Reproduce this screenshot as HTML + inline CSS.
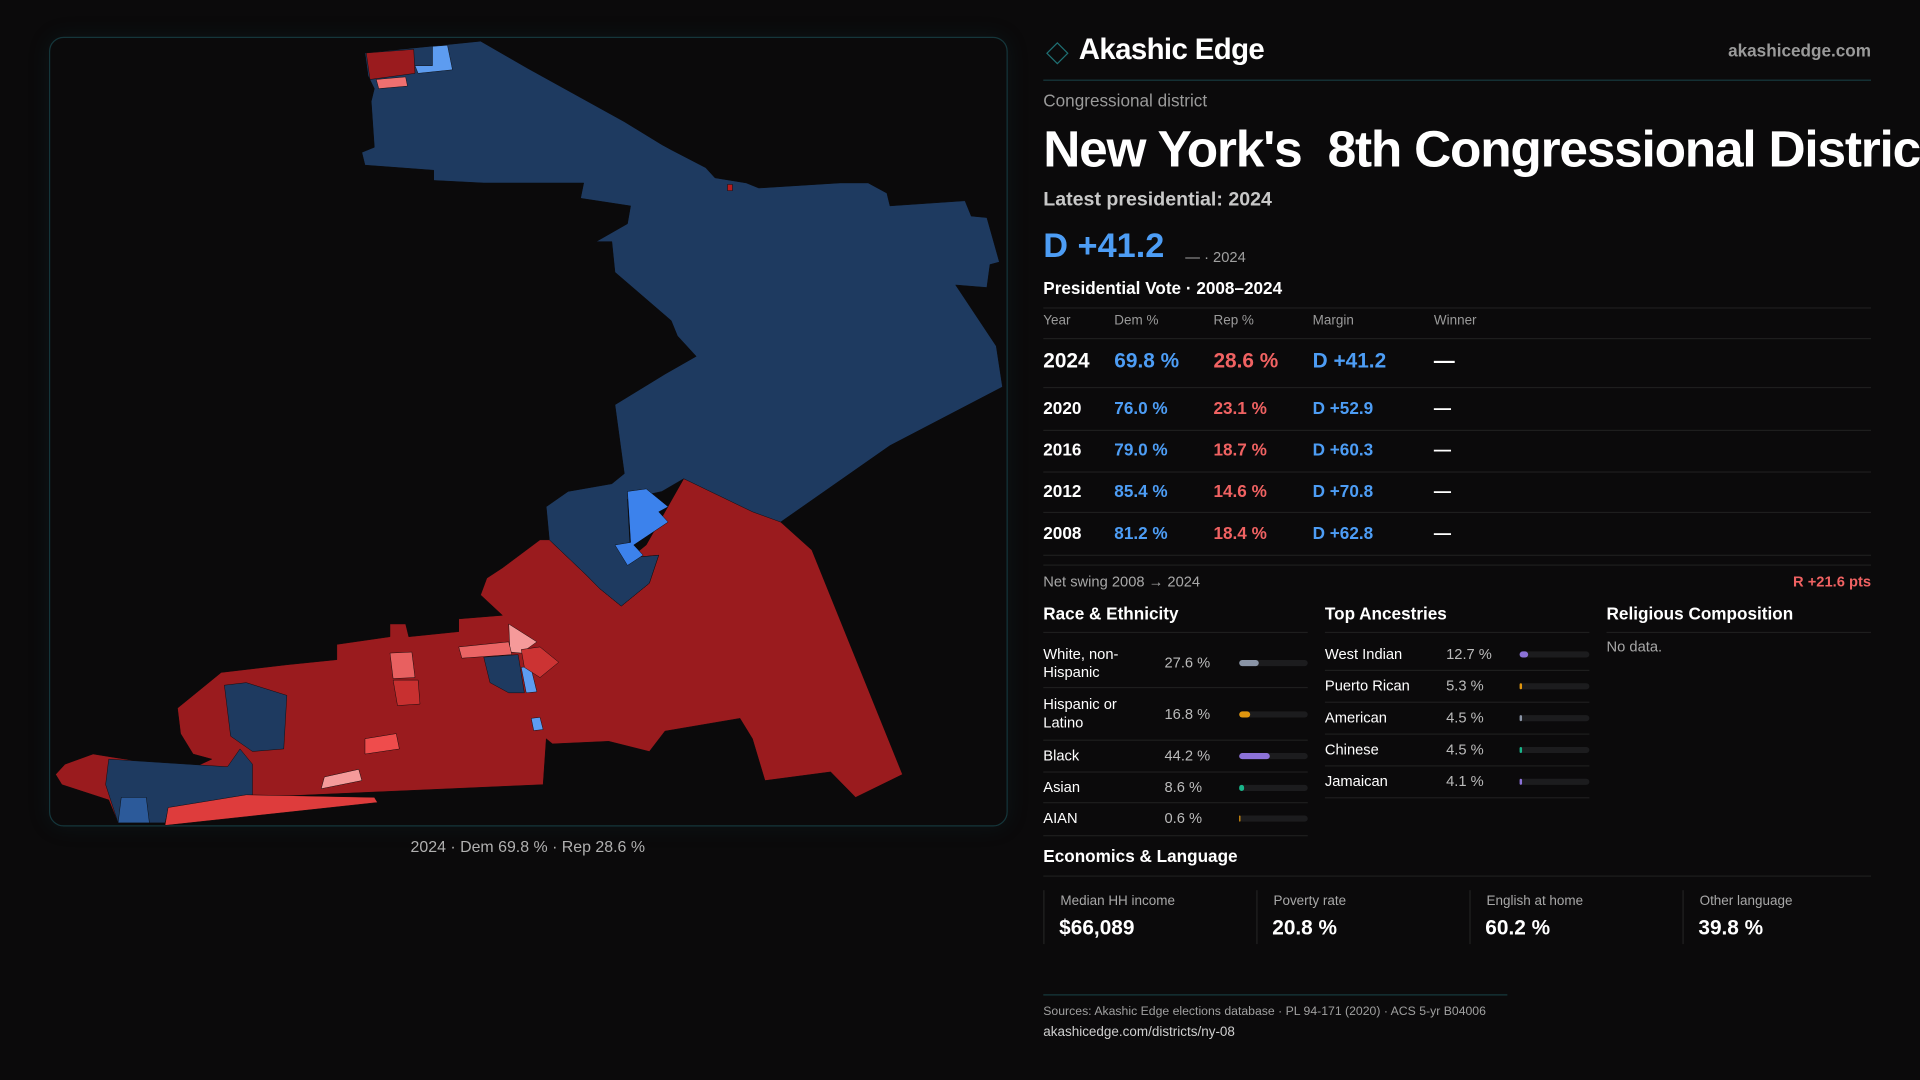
<!DOCTYPE html>
<html><head><meta charset="utf-8"><style>
html,body{margin:0;padding:0;background:#0b0a0b;width:1920px;height:1080px;overflow:hidden}
#s{position:absolute;left:0;top:0;width:1568px;height:882px;transform:scale(1.22449);transform-origin:0 0;font-family:"Liberation Sans",sans-serif;color:#fff}
.a{position:absolute;white-space:pre}
.ln{position:absolute;height:1px;background:#1e1e1e}
.bar{position:absolute;height:5px;border-radius:3px;background:#1c1c1e}
.bar i{position:absolute;left:0;top:0;height:5px;border-radius:3px}
</style></head><body><div id="s">
<div style="position:absolute;left:40px;top:30px;width:781px;height:643px;border:1px solid #15363b;border-radius:12px;box-shadow:0 0 18px rgba(20,80,90,0.15)"></div>
<svg style="position:absolute;left:0;top:0" width="1568" height="882" viewBox="0 0 1568 882">
<g transform="translate(32.67,24.5) scale(0.5104,0.4164)" stroke="#0b0a0b" stroke-width="0.8">
<polygon fill="#9a1b1e" points="1030,880 1100,910 1185,965 1235,1020 1380,1460 1305,1505 1265,1455 1160,1472 1140,1390 1120,1350 1000,1375 975,1415 910,1395 820,1400 810,1390 805,1480 340,1505 205,1555 125,1555 110,1510 35,1480 25,1460 40,1440 85,1420 110,1425 240,1450 275,1430 245,1420 225,1380 220,1330 240,1310 290,1260 395,1245 475,1235 475,1205 560,1190 560,1165 585,1165 590,1190 670,1180 670,1155 740,1148 705,1108 715,1075 740,1055 800,1000 815,1000 875,1070 895,1095 930,1130 975,1085 990,1030 945,1035 970,1010"/>
<polygon fill="#1e3a60" points="520,45 705,22 780,75 935,180 995,225 1010,235 1065,270 1080,290 1130,300 1150,310 1280,300 1325,300 1355,320 1360,345 1480,335 1490,365 1515,368 1535,455 1520,460 1515,505 1465,500 1530,620 1540,700 1360,815 1185,965 1140,945 1030,880 995,905 940,920 945,1035 990,1030 975,1085 930,1130 895,1095 875,1070 815,1000 810,935 845,905 915,890 935,870 920,735 1000,675 1050,640 1020,600 1010,570 920,475 915,415 890,415 940,380 945,345 865,330 870,300 710,300 630,295 630,275 520,265 515,240 535,230 530,140 535,115 525,90"/>
<polygon fill="#1e3a60" points="110,1430 300,1445 320,1410 340,1440 340,1500 205,1530 200,1555 125,1555 105,1480"/>
<polygon fill="#2c5a9a" points="130,1505 170,1505 175,1555 125,1555"/>
<polygon fill="#1e3a60" points="295,1285 330,1280 395,1305 390,1410 340,1415 305,1385"/>
<polygon fill="#1e3a60" points="710,1230 765,1225 775,1300 750,1300 720,1280"/>
<polygon fill="#5d9cf0" points="770,1250 785,1248 795,1298 778,1300"/>
<polygon fill="#5d9cf0" points="786,1350 800,1348 805,1372 790,1374"/>
<polygon fill="#3c82ec" points="940,905 970,900 1005,935 990,945 1005,965 950,1010 965,1030 940,1050 920,1010 945,1005"/>
<polygon fill="#5d9cf0" points="628,32 652,30 660,78 605,85 600,70 628,70"/>
<polygon fill="#9a1b1e" points="522,45 598,38 600,85 528,97"/>
<polygon fill="#ef7070" points="538,97 585,92 588,110 542,115"/>
<polygon fill="#de3c3c" points="205,1525 330,1500 535,1505 540,1515 200,1560"/>
<polygon fill="#f59a9a" points="750,1165 795,1200 770,1222 752,1220"/>
<polygon fill="#ea6464" points="670,1210 750,1200 755,1225 675,1232"/>
<polygon fill="#e86060" points="560,1222 595,1220 600,1270 565,1272"/>
<polygon fill="#c83030" points="565,1275 605,1275 608,1322 572,1325"/>
<polygon fill="#ef4c4c" points="520,1390 570,1380 575,1410 520,1420"/>
<polygon fill="#f59a9a" points="455,1465 510,1450 515,1472 450,1488"/>
<polygon fill="#cc3333" points="770,1215 800,1210 830,1240 800,1270 775,1250"/>
<rect fill="#b81c1c" x="1100" y="303" width="8" height="12"/>
</g></svg>
<div class="a" style="left:0;width:862px;text-align:center;top:684px;font-size:13px;color:#b0b0b0">2024 · Dem 69.8 % · Rep 28.6 %</div>

<div style="position:absolute;left:857px;top:37px;width:11px;height:11px;border:1.5px solid #1f6f73;transform:rotate(45deg)"></div>
<div class="a" style="left:881px;top:27px;font-size:24px;font-weight:bold;letter-spacing:-0.5px">Akashic Edge</div>
<div class="a" style="right:40px;top:33px;font-size:14px;color:#9a9a9a;font-weight:bold">akashicedge.com</div>
<div class="ln" style="left:852px;width:676px;top:65px;background:#173a3e"></div>
<div class="a" style="left:852px;top:74px;font-size:14px;color:#9a9a9a">Congressional district</div>
<div class="a" style="left:852px;top:98px;font-size:42px;font-weight:bold;letter-spacing:-1px">New York's  8th Congressional District</div>
<div class="a" style="left:852px;top:155px;font-size:16px;color:#c8c8c8;font-weight:bold">Latest presidential: 2024</div>
<div class="a" style="left:852px;top:185px;font-size:28px;color:#4d9df5;font-weight:bold">D +41.2</div>
<div class="a" style="left:968px;top:203px;font-size:12px;color:#a0a0a0">— · 2024</div>
<div class="a" style="left:852px;top:227px;font-size:14px;font-weight:bold">Presidential Vote · 2008–2024</div>
<div class="ln" style="left:852px;width:676px;top:251px"></div>
<div class="ln" style="left:852px;width:676px;top:276px"></div>
<div class="ln" style="left:852px;width:676px;top:316px"></div>
<div class="ln" style="left:852px;width:676px;top:351px"></div>
<div class="ln" style="left:852px;width:676px;top:385px"></div>
<div class="ln" style="left:852px;width:676px;top:418px"></div>
<div class="ln" style="left:852px;width:676px;top:453px"></div>
<div class="ln" style="left:852px;width:676px;top:461px"></div>
<div style="position:absolute;left:852px;top:256px;font-size:11px;color:#9a9a9a">
<span class="a" style="left:0">Year</span><span class="a" style="left:58px">Dem %</span><span class="a" style="left:139px">Rep %</span><span class="a" style="left:220px">Margin</span><span class="a" style="left:319px">Winner</span></div>
<div style="position:absolute;left:852px;top:285px;font-size:17px;font-weight:bold">
<span class="a" style="left:0">2024</span><span class="a" style="left:58px;color:#4d9df5">69.8 %</span><span class="a" style="left:139px;color:#f06262">28.6 %</span><span class="a" style="left:220px;color:#4d9df5">D +41.2</span><span class="a" style="left:319px">—</span></div>
<div style="position:absolute;left:852px;top:325px;font-size:14px;font-weight:bold">
<span class="a" style="left:0">2020</span><span class="a" style="left:58px;color:#4d9df5">76.0 %</span><span class="a" style="left:139px;color:#f06262">23.1 %</span><span class="a" style="left:220px;color:#4d9df5">D +52.9</span><span class="a" style="left:319px">—</span></div>
<div style="position:absolute;left:852px;top:359px;font-size:14px;font-weight:bold">
<span class="a" style="left:0">2016</span><span class="a" style="left:58px;color:#4d9df5">79.0 %</span><span class="a" style="left:139px;color:#f06262">18.7 %</span><span class="a" style="left:220px;color:#4d9df5">D +60.3</span><span class="a" style="left:319px">—</span></div>
<div style="position:absolute;left:852px;top:393px;font-size:14px;font-weight:bold">
<span class="a" style="left:0">2012</span><span class="a" style="left:58px;color:#4d9df5">85.4 %</span><span class="a" style="left:139px;color:#f06262">14.6 %</span><span class="a" style="left:220px;color:#4d9df5">D +70.8</span><span class="a" style="left:319px">—</span></div>
<div style="position:absolute;left:852px;top:427px;font-size:14px;font-weight:bold">
<span class="a" style="left:0">2008</span><span class="a" style="left:58px;color:#4d9df5">81.2 %</span><span class="a" style="left:139px;color:#f06262">18.4 %</span><span class="a" style="left:220px;color:#4d9df5">D +62.8</span><span class="a" style="left:319px">—</span></div>
<div class="a" style="left:852px;top:468px;font-size:12px;color:#a8a8a8">Net swing 2008 → 2024</div>
<div class="a" style="right:40px;top:468px;font-size:12px;color:#f06262;font-weight:bold">R +21.6 pts</div>

<div class="a" style="left:852px;top:493px;font-size:14px;font-weight:bold">Race &amp; Ethnicity</div>
<div class="a" style="left:1082px;top:493px;font-size:14px;font-weight:bold">Top Ancestries</div>
<div class="a" style="left:1312px;top:493px;font-size:14px;font-weight:bold">Religious Composition</div>
<div class="ln" style="left:852px;width:216px;top:516px"></div>
<div class="ln" style="left:1082px;width:216px;top:516px"></div>
<div class="ln" style="left:1312px;width:216px;top:516px"></div>
<div class="a" style="left:1312px;top:521px;font-size:12px;color:#a8a8a8">No data.</div>

<div style="position:absolute;left:852px;top:0;font-size:12px">
<span class="a" style="left:0;top:527px;line-height:15px">White, non-
Hispanic</span><span class="a" style="left:99px;top:534px;color:#bbb">27.6 %</span>
<div class="bar" style="left:160px;width:56px;top:539px"><i style="width:16px;background:#8a94a6"></i></div>
<div class="ln" style="left:0;width:216px;top:561px"></div>
<span class="a" style="left:0;top:568px;line-height:15px">Hispanic or
Latino</span><span class="a" style="left:99px;top:576px;color:#bbb">16.8 %</span>
<div class="bar" style="left:160px;width:56px;top:581px"><i style="width:9px;background:#e0960f"></i></div>
<div class="ln" style="left:0;width:216px;top:604px"></div>
<span class="a" style="left:0;top:610px">Black</span><span class="a" style="left:99px;top:610px;color:#bbb">44.2 %</span>
<div class="bar" style="left:160px;width:56px;top:615px"><i style="width:25px;background:#8c72d8"></i></div>
<div class="ln" style="left:0;width:216px;top:630px"></div>
<span class="a" style="left:0;top:636px">Asian</span><span class="a" style="left:99px;top:636px;color:#bbb">8.6 %</span>
<div class="bar" style="left:160px;width:56px;top:641px"><i style="width:4px;background:#19b58a"></i></div>
<div class="ln" style="left:0;width:216px;top:655px"></div>
<span class="a" style="left:0;top:661px">AIAN</span><span class="a" style="left:99px;top:661px;color:#bbb">0.6 %</span>
<div class="bar" style="left:160px;width:56px;top:666px"><i style="width:1px;background:#e0960f"></i></div>
<div class="ln" style="left:0;width:216px;top:682px"></div>
</div>

<div style="position:absolute;left:1082px;top:0;font-size:12px">
<span class="a" style="left:0;top:527px">West Indian</span><span class="a" style="left:99px;top:527px;color:#bbb">12.7 %</span>
<div class="bar" style="left:159px;width:57px;top:532px"><i style="width:7px;background:#8c72d8"></i></div>
<div class="ln" style="left:0;width:216px;top:547px"></div>
<span class="a" style="left:0;top:553px">Puerto Rican</span><span class="a" style="left:99px;top:553px;color:#bbb">5.3 %</span>
<div class="bar" style="left:159px;width:57px;top:558px"><i style="width:2px;background:#e0960f"></i></div>
<div class="ln" style="left:0;width:216px;top:573px"></div>
<span class="a" style="left:0;top:579px">American</span><span class="a" style="left:99px;top:579px;color:#bbb">4.5 %</span>
<div class="bar" style="left:159px;width:57px;top:584px"><i style="width:2px;background:#8a94a6"></i></div>
<div class="ln" style="left:0;width:216px;top:599px"></div>
<span class="a" style="left:0;top:605px">Chinese</span><span class="a" style="left:99px;top:605px;color:#bbb">4.5 %</span>
<div class="bar" style="left:159px;width:57px;top:610px"><i style="width:2px;background:#19b58a"></i></div>
<div class="ln" style="left:0;width:216px;top:625px"></div>
<span class="a" style="left:0;top:631px">Jamaican</span><span class="a" style="left:99px;top:631px;color:#bbb">4.1 %</span>
<div class="bar" style="left:159px;width:57px;top:636px"><i style="width:2px;background:#8c72d8"></i></div>
<div class="ln" style="left:0;width:216px;top:651px"></div>
</div>

<div class="a" style="left:852px;top:691px;font-size:14px;font-weight:bold">Economics &amp; Language</div>
<div class="ln" style="left:852px;width:676px;top:715px"></div>
<div style="position:absolute;left:852px;top:727px;width:174px;height:44px;border-left:1px solid #222"><span class="a" style="left:13px;top:3px;font-size:11px;color:#a8a8a8">Median HH income</span><span class="a" style="left:12px;top:21px;font-size:17px;font-weight:bold">$66,089</span></div>
<div style="position:absolute;left:1026px;top:727px;width:174px;height:44px;border-left:1px solid #222"><span class="a" style="left:13px;top:3px;font-size:11px;color:#a8a8a8">Poverty rate</span><span class="a" style="left:12px;top:21px;font-size:17px;font-weight:bold">20.8 %</span></div>
<div style="position:absolute;left:1200px;top:727px;width:174px;height:44px;border-left:1px solid #222"><span class="a" style="left:13px;top:3px;font-size:11px;color:#a8a8a8">English at home</span><span class="a" style="left:12px;top:21px;font-size:17px;font-weight:bold">60.2 %</span></div>
<div style="position:absolute;left:1374px;top:727px;width:154px;height:44px;border-left:1px solid #222"><span class="a" style="left:13px;top:3px;font-size:11px;color:#a8a8a8">Other language</span><span class="a" style="left:12px;top:21px;font-size:17px;font-weight:bold">39.8 %</span></div>

<div class="ln" style="left:852px;width:379px;top:812px;background:#173a3e"></div>
<div class="a" style="left:852px;top:821px;font-size:10px;color:#a0a0a0">Sources: Akashic Edge elections database · PL 94-171 (2020) · ACS 5-yr B04006</div>
<div class="a" style="left:852px;top:837px;font-size:11px;color:#cfcfcf">akashicedge.com/districts/ny-08</div>
</div></body></html>
